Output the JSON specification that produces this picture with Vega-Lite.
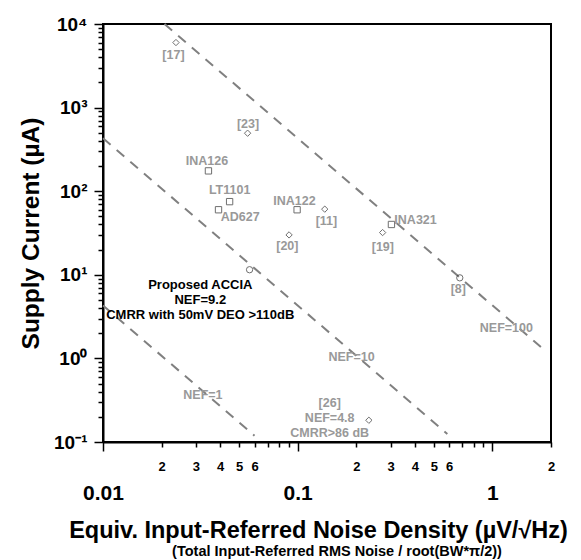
{
  "$schema": "https://vega.github.io/schema/vega-lite/v6.json",
  "width": 448,
  "height": 418,
  "autosize": "none",
  "padding": {"left": 103, "top": 24, "right": 30, "bottom": 118},
  "background": "white",
  "view": {"stroke": "black", "strokeWidth": 2},
  "title": {
    "text": "(Total Input-Referred RMS Noise / root(BW*π/2))",
    "orient": "bottom",
    "anchor": "middle",
    "font": "Liberation Sans",
    "fontWeight": "bold",
    "fontSize": 14.5,
    "color": "black",
    "offset": 3,
    "dx": 10
  },
  "layer": [
    {
      "data": {"values": [
        {"nef": "1", "x": 0.01, "y": 4.3},
        {"nef": "1", "x": 0.06, "y": 0.119},
        {"nef": "10", "x": 0.01, "y": 430},
        {"nef": "10", "x": 0.587, "y": 0.125},
        {"nef": "100", "x": 0.0207, "y": 10000},
        {"nef": "100", "x": 1.8, "y": 1.33}
      ]},
      "mark": {"type": "line", "color": "#808080", "strokeWidth": 2, "strokeDash": [10, 8]},
      "encoding": {
        "detail": {"field": "nef"},
        "x": {
          "field": "x", "type": "quantitative",
          "scale": {"type": "log", "domain": [0.01, 2], "nice": false},
          "axis": {
            "orient": "bottom",
            "gridOpacity": 0,
            "domainColor": "black",
            "domainWidth": 2,
            "tickColor": "black",
            "tickWidth": 1.5,
            "labelFont": "Liberation Sans",
            "labelFontWeight": "bold",
            "labelColor": "black",
            "labelOverlap": false,
            "labelFlush": false,
            "titleFont": "Liberation Sans",
            "titleFontWeight": "bold",
            "titleColor": "black",
            "title": "Equiv. Input-Referred  Noise Density (µV/√Hz)",
            "titleFontSize": 23.5,
            "titlePadding": 15,
            "titleX": 215,
            "labelExpr": "abs(log(datum.value)/LN10 - round(log(datum.value)/LN10)) < 0.001 ? format(datum.value, '~g') : ((datum.value / pow(10, floor(log(datum.value)/LN10 + 1e-9)) > 1.5 && datum.value / pow(10, floor(log(datum.value)/LN10 + 1e-9)) < 6.5) ? '' + round(datum.value / pow(10, floor(log(datum.value)/LN10 + 1e-9))) : '')",
            "labelFontSize": {"condition": {"test": "abs(log(datum.value)/LN10 - round(log(datum.value)/LN10)) < 0.001", "value": 21}, "value": 13},
            "labelPadding": {"condition": {"test": "abs(log(datum.value)/LN10 - round(log(datum.value)/LN10)) < 0.001", "value": 31}, "value": 13},
            "tickSize": {"condition": {"test": "abs(log(datum.value)/LN10 - round(log(datum.value)/LN10)) < 0.001", "value": 9}, "value": 5}
          }
        },
        "y": {
          "field": "y", "type": "quantitative",
          "scale": {"type": "log", "domain": [0.1, 10000], "nice": false},
          "axis": {
            "orient": "left",
            "gridOpacity": 0,
            "domainColor": "black",
            "domainWidth": 2,
            "tickColor": "black",
            "tickWidth": 1.5,
            "labelFont": "Liberation Sans",
            "labelFontWeight": "bold",
            "labelColor": "black",
            "labelOverlap": false,
            "labelFlush": false,
            "titleFont": "Liberation Sans",
            "titleFontWeight": "bold",
            "titleColor": "black",
            "title": "Supply Current (µA)",
            "titleFontSize": 24.5,
            "titlePadding": 10,
            "labelExpr": "abs(log(datum.value)/LN10 - round(log(datum.value)/LN10)) < 0.001 ? '10' + ['⁻¹','⁰','¹','²','³','⁴'][round(log(datum.value)/LN10)+1] : ''",
            "labelFontSize": 19,
            "labelPadding": 7,
            "tickSize": {"condition": {"test": "abs(log(datum.value)/LN10 - round(log(datum.value)/LN10)) < 0.001", "value": 9}, "value": 5}
          }
        }
      }
    },
    {
      "data": {"values": [
        {"name": "[17]", "kind": "Published", "x": 0.0237, "y": 6000},
        {"name": "[23]", "kind": "Published", "x": 0.0553, "y": 494},
        {"name": "INA126", "kind": "Commercial", "x": 0.0348, "y": 175},
        {"name": "LT1101", "kind": "Commercial", "x": 0.0447, "y": 75},
        {"name": "AD627", "kind": "Commercial", "x": 0.0392, "y": 60},
        {"name": "[20]", "kind": "Published", "x": 0.0903, "y": 30},
        {"name": "INA122", "kind": "Commercial", "x": 0.0993, "y": 60},
        {"name": "[11]", "kind": "Published", "x": 0.1377, "y": 61},
        {"name": "[19]", "kind": "Published", "x": 0.273, "y": 32},
        {"name": "INA321", "kind": "Commercial", "x": 0.303, "y": 40},
        {"name": "[8]", "kind": "Other", "x": 0.68, "y": 9.2},
        {"name": "[26]", "kind": "Published", "x": 0.232, "y": 0.182},
        {"name": "Proposed ACCIA", "kind": "Other", "x": 0.0566, "y": 11.5}
      ]},
      "mark": {"type": "point", "filled": false, "color": "#333333", "strokeWidth": 1, "size": 40},
      "encoding": {
        "x": {"field": "x", "type": "quantitative"},
        "y": {"field": "y", "type": "quantitative"},
        "shape": {
          "field": "kind", "type": "nominal",
          "scale": {"domain": ["Published", "Commercial", "Other"], "range": ["diamond", "square", "circle"]},
          "legend": null
        }
      }
    },
    {
      "data": {"values": [
        {"text": "[17]", "x": 0.023, "y": 4200},
        {"text": "[23]", "x": 0.0556, "y": 628},
        {"text": "INA126", "x": 0.0342, "y": 228},
        {"text": "LT1101", "x": 0.0447, "y": 102},
        {"text": "AD627", "x": 0.0507, "y": 48.5},
        {"text": "[20]", "x": 0.0885, "y": 22.4},
        {"text": "INA122", "x": 0.0962, "y": 75.3},
        {"text": "[11]", "x": 0.1405, "y": 44.6},
        {"text": "[19]", "x": 0.2738, "y": 21.4},
        {"text": "INA321", "x": 0.403, "y": 45.5},
        {"text": "[8]", "x": 0.668, "y": 6.8},
        {"text": "NEF=100", "x": 1.18, "y": 2.3},
        {"text": "NEF=10", "x": 0.189, "y": 1.05},
        {"text": "NEF=1", "x": 0.0326, "y": 0.36},
        {"text": "[26]", "x": 0.146, "y": 0.29},
        {"text": "NEF=4.8", "x": 0.146, "y": 0.196},
        {"text": "CMRR>86 dB", "x": 0.146, "y": 0.128}
      ]},
      "mark": {"type": "text", "color": "#999999", "font": "Liberation Sans", "fontWeight": "bold", "fontSize": 12.5, "align": "center", "baseline": "middle"},
      "encoding": {
        "text": {"field": "text"},
        "x": {"field": "x", "type": "quantitative"},
        "y": {"field": "y", "type": "quantitative"}
      }
    },
    {
      "data": {"values": [
        {"text": "Proposed ACCIA", "x": 0.0316, "y": 7.45},
        {"text": "NEF=9.2", "x": 0.0316, "y": 4.93},
        {"text": "CMRR with 50mV DEO >110dB", "x": 0.0316, "y": 3.26}
      ]},
      "mark": {"type": "text", "color": "black", "font": "Liberation Sans", "fontWeight": "bold", "fontSize": 13, "align": "center", "baseline": "middle"},
      "encoding": {
        "text": {"field": "text"},
        "x": {"field": "x", "type": "quantitative"},
        "y": {"field": "y", "type": "quantitative"}
      }
    }
  ]
}
